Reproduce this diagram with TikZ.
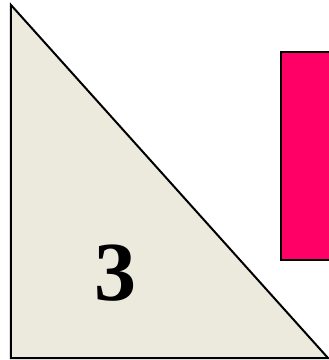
\documentclass[tikz,border=0pt]{standalone}
\usepackage{fontspec}
\setmainfont{Liberation Serif}
\definecolor{sand}{HTML}{ECE9DD}
\definecolor{rosso}{HTML}{FF0066}
\begin{document}
\begin{tikzpicture}[x=1pt,y=-1pt]
        %cornice
        \useasboundingbox (0,0) rectangle (329,360);
        %triangolo
        \draw[line width=2pt,fill=sand,line join=miter] (11,5) -- (11,358) -- (328,358) -- cycle;
        %rettangolo
        \fill[rosso] (281,52) rectangle (330,260);
        \draw[line width=2pt] (330,52) -- (281,52) -- (281,260) -- (330,260);
        %numero
        \node[font=\fontsize{84}{84}\selectfont\bfseries,inner sep=0pt] (num) at (115.5,273.5) {3};
\end{tikzpicture}
\end{document}
